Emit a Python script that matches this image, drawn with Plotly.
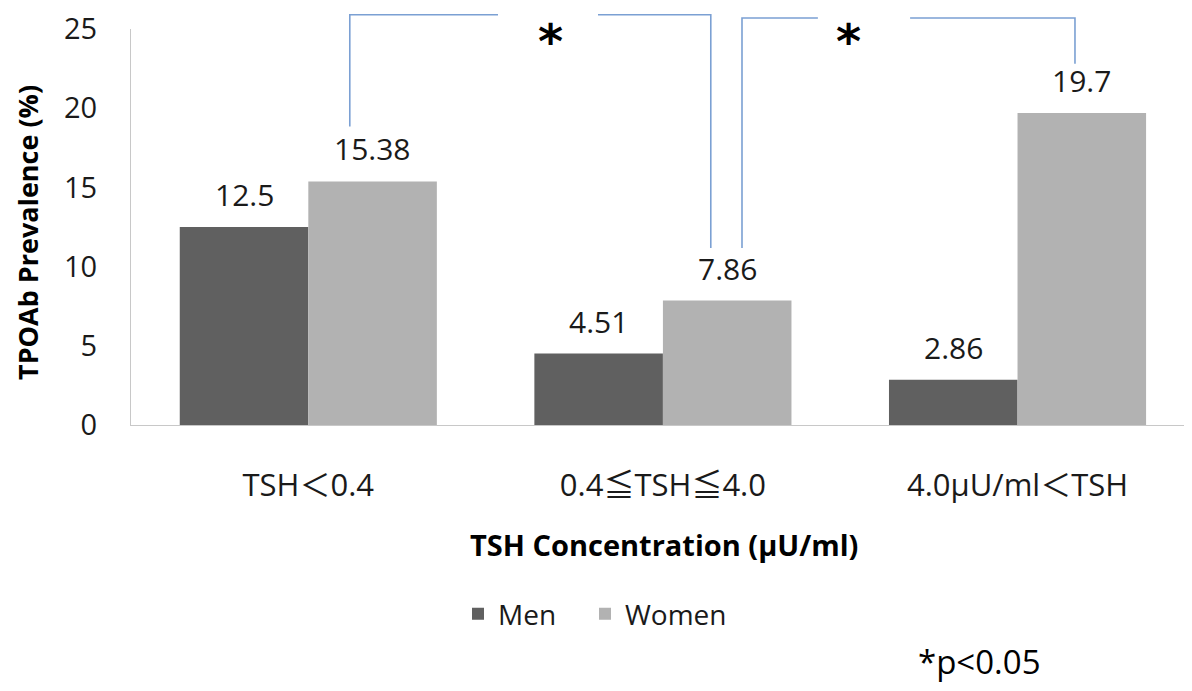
import plotly.graph_objects as go

categories = ["TSH＜0.4", "0.4≦TSH≦4.0", "4.0μU/ml＜TSH"]
men = [12.5, 4.51, 2.86]
women = [15.38, 7.86, 19.7]
men_labels = ["12.5", "4.51", "2.86"]
women_labels = ["15.38", "7.86", "19.7"]
y_ticks = [0, 5, 10, 15, 20, 25]

FONT = "Open Sans, Noto Sans CJK JP, sans-serif"
STAR_FONT = "DejaVu Sans, sans-serif"
MEN_COLOR = "#606060"
WOMEN_COLOR = "#b2b2b2"
BRACKET_COLOR = "#7ba0d3"
BARGAP = 0.275
X_RANGE = [-0.5, 2.492]
Y_RANGE = [0, 25]

# the page has an 8px body margin; figure is sized so the plot lands where the reference has it
OFF = 8
PLOT_L, PLOT_T, PLOT_R, PLOT_B = 131, 27, 1192, 425  # screen px of plot area
W = 1192 - OFF
H = 691 - OFF
PW = PLOT_R - PLOT_L
PH = PLOT_B - PLOT_T

x_idx = list(range(len(categories)))

fig = go.Figure()
fig.add_trace(go.Bar(name="Men", x=x_idx, y=men, marker_color=MEN_COLOR,
                     marker_line_width=0, legend="legend"))
fig.add_trace(go.Bar(name="Women", x=x_idx, y=women, marker_color=WOMEN_COLOR,
                     marker_line_width=0, legend="legend2"))

half = (1 - BARGAP) / 4
annotations = []
for i in x_idx:
    for off, val, lab in ((-half, men[i], men_labels[i]), (half, women[i], women_labels[i])):
        annotations.append(dict(x=i + off, y=val, xref="x", yref="y", text=lab,
                                showarrow=False, yanchor="bottom", yshift=10,
                                font=dict(family=FONT, size=30, color="#1a1a1a")))


def px(x):
    return (x - X_RANGE[0]) / (X_RANGE[1] - X_RANGE[0])


def py(y):
    return (y - Y_RANGE[0]) / (Y_RANGE[1] - Y_RANGE[0])


def sx(screen_x):
    return (screen_x - PLOT_L) / PW


def sy(screen_y):
    return (PLOT_B - screen_y) / PH


# significance brackets (data units -> paper)
brackets = [
    # left x, left bottom y, right x, right bottom y, top y, gap from, gap to, star x
    (0.117, 18.84, 1.135, 11.18, 25.9, 0.535, 0.817, 0.684),
    (1.223, 11.18, 2.162, 22.8, 25.69, 1.437, 1.697, 1.564),
]
shapes = []
for lx, ly, rx, ry, ty, g0, g1, stx in brackets:
    line = dict(color=BRACKET_COLOR, width=1.6)
    shapes.append(dict(type="path", xref="paper", yref="paper", line=line,
                       path=f"M{px(lx)},{py(ly)} L{px(lx)},{py(ty)} L{px(g0)},{py(ty)}"))
    shapes.append(dict(type="path", xref="paper", yref="paper", line=line,
                       path=f"M{px(g1)},{py(ty)} L{px(rx)},{py(ty)} L{px(rx)},{py(ry)}"))
    annotations.append(dict(x=px(stx), y=sy(OFF + 1), xref="paper", yref="paper",
                            text="<b>*</b>", showarrow=False, yanchor="top",
                            font=dict(family=STAR_FONT, size=48, color="#000000")))

# axis titles and note
annotations.append(dict(x=sx(28), y=sy(232), xref="paper", yref="paper", xanchor="center",
                        yanchor="middle", textangle=-90,
                        text="<b>TPOAb Prevalence (%)</b>", showarrow=False,
                        font=dict(family=FONT, size=27, color="#000000")))
annotations.append(dict(x=sx(664), y=sy(545), xref="paper", yref="paper",
                        xanchor="center", yanchor="middle",
                        text="<b>TSH Concentration (μU/ml)</b>", showarrow=False,
                        font=dict(family=FONT, size=29, color="#000000")))
annotations.append(dict(x=sx(979), y=sy(663), xref="paper", yref="paper",
                        xanchor="center", yanchor="middle", text="*p<0.05", showarrow=False,
                        font=dict(family=FONT, size=33, color="#000000")))

legend_font = dict(family=FONT, size=28, color="#1a1a1a")
fig.update_layout(
    width=W, height=H,
    margin=dict(l=PLOT_L - OFF, r=W - (PLOT_R - OFF), t=PLOT_T - OFF, b=H - (PLOT_B - OFF)),
    paper_bgcolor="white", plot_bgcolor="white",
    barmode="group", bargap=BARGAP, bargroupgap=0,
    font=dict(family=FONT, size=28, color="#1a1a1a"),
    showlegend=True,
    legend=dict(orientation="h", x=sx(458), xanchor="left",
                y=sy(615), yanchor="middle", font=legend_font),
    legend2=dict(orientation="h", x=sx(585), xanchor="left",
                 y=sy(615), yanchor="middle", font=legend_font),
    xaxis=dict(range=X_RANGE, tickvals=x_idx, ticktext=categories,
               showline=True, linecolor="#c8c8c8", linewidth=1.2,
               ticks="outside", ticklen=33, tickcolor="rgba(0,0,0,0)",
               tickfont=dict(family=FONT, size=31, color="#1a1a1a"),
               ticklabeloverflow="allow",
               showgrid=False, zeroline=False, fixedrange=True),
    yaxis=dict(range=Y_RANGE, tickvals=y_ticks, showline=True,
               linecolor="#c8c8c8", linewidth=1.2, ticks="outside", ticklen=27,
               tickcolor="rgba(0,0,0,0)", showgrid=False, zeroline=False,
               tickfont=dict(family=FONT, size=29, color="#1a1a1a"),
               ticklabeloverflow="allow",
               fixedrange=True),
    shapes=shapes,
    annotations=annotations,
)

fig.write_html("out.html")
